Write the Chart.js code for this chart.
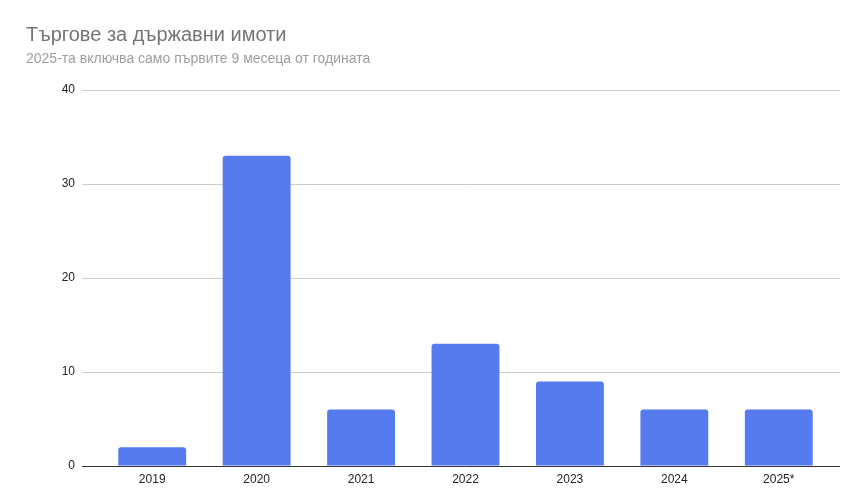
<!DOCTYPE html>
<html>
<head>
<meta charset="utf-8">
<script src="https://cdn.jsdelivr.net/npm/chart.js@4"></script>
<style>
  html, body { margin: 0; padding: 0; background: #fff; }
  #wrap { position: relative; width: 859px; height: 499px; }
  #title { position: absolute; left: 26px; top: 23px; font: 20px "Liberation Sans", Arial, sans-serif; color: #757575; white-space: nowrap; }
  #subtitle { position: absolute; left: 26px; top: 50px; font: 14px "Liberation Sans", Arial, sans-serif; color: #9e9e9e; white-space: nowrap; }
</style>
</head>
<body>
<div id="wrap">
  <canvas id="chart" width="859" height="499"></canvas>
  <div id="title">Търгове за държавни имоти</div>
  <div id="subtitle">2025-та включва само първите 9 месеца от годината</div>
</div>
<script>
// Chart data
const years = ['2019', '2020', '2021', '2022', '2023', '2024', '2025*'];
const auctions = [2, 33, 6, 13, 9, 6, 6];
const yTicks = [0, 10, 20, 30, 40];

// Extend horizontal grid lines a little past the right edge, like the original
const gridExtend = {
    id: 'gridExtend',
    beforeDatasetsDraw(chart) {
        const { ctx, chartArea, scales } = chart;
        ctx.save();
        ctx.lineWidth = 1;
        yTicks.forEach(v => {
            const y = Math.round(scales.y.getPixelForValue(v)) + 0.5;
            ctx.strokeStyle = v === 0 ? '#333333' : '#cccccc';
            ctx.beginPath();
            ctx.moveTo(chartArea.right, y);
            ctx.lineTo(chartArea.right + 9, y);
            ctx.stroke();
        });
        ctx.restore();
    }
};

const ctx = document.getElementById('chart').getContext('2d');
const chart = new Chart(ctx, {
    type: 'bar',
    data: {
        labels: years,
        datasets: [{
            label: 'Търгове',
            data: auctions,
            backgroundColor: '#557bef',
            borderRadius: 3,
            categoryPercentage: 1,
            barPercentage: 0.65
        }]
    },
    options: {
        responsive: false,
        animation: false,
        layout: { padding: { top: 90, right: 28, left: 0, bottom: 0 } },
        plugins: {
            legend: { display: false },
            tooltip: { enabled: false }
        },
        scales: {
            x: {
                grid: { display: false, drawTicks: false },
                border: { display: false },
                ticks: {
                    color: '#222',
                    font: { family: '"Liberation Sans", Arial, sans-serif', size: 12 },
                    padding: 6
                },
                afterFit: s => { s.height = 33; }
            },
            y: {
                min: 0,
                max: 40,
                afterBuildTicks: s => { s.ticks = yTicks.map(v => ({ value: v })); },
                afterFit: s => { s.width = 100; },
                border: { display: false },
                grid: {
                    color: c => (c.tick && c.tick.value === 0 ? '#333333' : '#cccccc'),
                    tickLength: 18,
                    drawTicks: true
                },
                ticks: {
                    color: '#222',
                    font: { family: '"Liberation Sans", Arial, sans-serif', size: 12 },
                    padding: 7
                }
            }
        }
    },
    plugins: [gridExtend]
});
</script>
</body>
</html>
